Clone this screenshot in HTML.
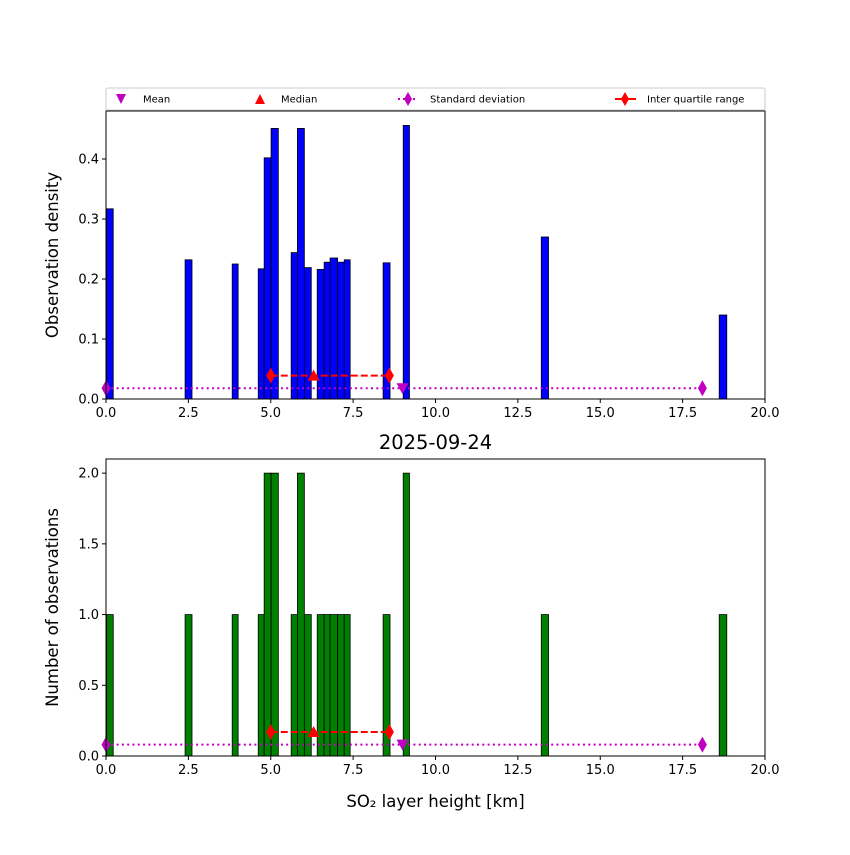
<!DOCTYPE html>
<html><head><meta charset="utf-8"><style>
html,body{margin:0;padding:0;background:#fff;}
svg text{font-family:"DejaVu Sans","Liberation Sans",sans-serif;}
</style></head><body>
<svg id="c" width="850" height="850" xmlns="http://www.w3.org/2000/svg"></svg>
<script>
const binLeft = [0.02,2.40,3.83,4.62,4.80,5.01,5.62,5.81,6.02,6.41,6.62,6.80,7.03,7.23,8.41,9.02,13.21,18.61];
const binRight = [0.22,2.61,4.01,4.80,5.01,5.23,5.81,6.02,6.23,6.62,6.80,7.03,7.23,7.41,8.62,9.21,13.43,18.84];
const density = [0.317,0.232,0.225,0.217,0.402,0.451,0.244,0.451,0.219,0.216,0.228,0.235,0.228,0.232,0.227,0.456,0.270,0.140];
const counts = [1,1,1,1,2,2,1,2,1,1,1,1,1,1,1,2,1,1];
const meanVal = 9.0, medianVal = 6.3, sdLo = 0.0, sdHi = 18.1, iqrLo = 5.0, iqrHi = 8.6;
const xTicks = [0,2.5,5,7.5,10,12.5,15,17.5,20];
const xTickLabels = ["0.0","2.5","5.0","7.5","10.0","12.5","15.0","17.5","20.0"];
const yTicksTop = [0,0.1,0.2,0.3,0.4];
const yTicksTopLabels = ["0.0","0.1","0.2","0.3","0.4"];
const yTicksBot = [0,0.5,1,1.5,2];
const yTicksBotLabels = ["0.0","0.5","1.0","1.5","2.0"];
const statYTop = [0.018,0.039], statYBot = [0.08,0.17];

const svg=document.getElementById('c');
const NS='http://www.w3.org/2000/svg';
function el(t,a,p){const e=document.createElementNS(NS,t);for(const k in a)e.setAttribute(k,a[k]);(p||svg).appendChild(e);return e;}
const X0=106,X1=765;
const sx=v=>X0+(v-0)/(20-0)*(X1-X0);

function panel(name,yTop,yBot,ymax,vals,color,ticks,tickLabels,ylab,statY,ylx){
  const sy=v=>yBot-(v/ymax)*(yBot-yTop);
  const g=el('g',{});
  
  
  for(let i=0;i<vals.length;i++){
    const r=el('rect',{x:sx(binLeft[i]),y:sy(vals[i]),width:sx(binRight[i])-sx(binLeft[i]),height:yBot-sy(vals[i]),fill:color,stroke:'#000','stroke-width':0.8},g);
    
    
  }
  const ys=sy(statY[0]), yi=sy(statY[1]);
  el('line',{x1:sx(sdLo),x2:sx(sdHi),y1:ys,y2:ys,stroke:'#bf00bf','stroke-width':2,'stroke-dasharray':'2,3.3'},g);
  [sdLo,sdHi].forEach(v=>{const d=el('path',{d:`M${sx(v)},${ys-8}L${sx(v)+4.5},${ys}L${sx(v)},${ys+8}L${sx(v)-4.5},${ys}Z`,fill:'#bf00bf'},g);});
  el('line',{x1:sx(iqrLo),x2:sx(iqrHi),y1:yi,y2:yi,stroke:'#f00','stroke-width':2,'stroke-dasharray':'7,3'},g);
  [iqrLo,iqrHi].forEach(v=>{const d=el('path',{d:`M${sx(v)},${yi-8}L${sx(v)+4.5},${yi}L${sx(v)},${yi+8}L${sx(v)-4.5},${yi}Z`,fill:'#f00'},g);});
  const m=el('path',{d:`M${sx(medianVal)-6},${yi+5}L${sx(medianVal)+6},${yi+5}L${sx(medianVal)},${yi-6}Z`,fill:'#f00'},g);
  
  const mn=el('path',{d:`M${sx(meanVal)-6},${ys-5}L${sx(meanVal)+6},${ys-5}L${sx(meanVal)},${ys+6}Z`,fill:'#bf00bf'},g);
  
  const fr=el('rect',{x:X0,y:yTop,width:X1-X0,height:yBot-yTop,fill:'none',stroke:'#000','stroke-width':1},g);
  
  xTicks.forEach((t,i)=>{el('line',{x1:sx(t),x2:sx(t),y1:yBot,y2:yBot+4,stroke:'#000'},g);
    const tx=el('text',{x:sx(t),y:yBot+18,'font-size':13,'text-anchor':'middle'},g);tx.textContent=xTickLabels[i];
    });
  ticks.forEach((t,i)=>{el('line',{x1:X0,x2:X0-4,y1:sy(t),y2:sy(t),stroke:'#000'},g);
    const tx=el('text',{x:X0-7,y:sy(t)+4.5,'font-size':13,'text-anchor':'end'},g);tx.textContent=tickLabels[i];
    });
  const yl=el('text',{x:0,y:0,'font-size':16.5,'text-anchor':'middle',transform:`translate(${ylx},${(yTop+yBot)/2}) rotate(-90)`},g);
  yl.textContent=ylab;
}
panel('density-panel',111,399,0.48,density,'#0000ff',yTicksTop,yTicksTopLabels,'Observation density',statYTop,58);
panel('count-panel',459,756,2.1,counts,'#008000',yTicksBot,yTicksBotLabels,'Number of observations',statYBot,58);

const tt=el('text',{x:435.5,y:449,'font-size':19.5,'text-anchor':'middle'});tt.textContent='2025-09-24';

const xl=el('text',{x:435.5,y:807,'font-size':16.5,'text-anchor':'middle'});xl.textContent='SO₂ layer height [km]';


const lg=el('g',{});

el('rect',{x:106,y:88,width:659,height:22,fill:'#fff',stroke:'#ccc',rx:2},lg);
const ly=99;
el('path',{d:`M116,${ly-5}L126,${ly-5}L121,${ly+5}Z`,fill:'#bf00bf'},lg);
el('path',{d:`M255,${ly+5}L265,${ly+5}L260,${ly-5}Z`,fill:'#f00'},lg);
el('line',{x1:398,x2:418,y1:ly,y2:ly,stroke:'#bf00bf','stroke-width':2,'stroke-dasharray':'2,3'},lg);
el('path',{d:`M408,${ly-7}L412,${ly}L408,${ly+7}L404,${ly}Z`,fill:'#bf00bf'},lg);
el('line',{x1:615,x2:636,y1:ly,y2:ly,stroke:'#f00','stroke-width':2},lg);
el('path',{d:`M625,${ly-7}L629,${ly}L625,${ly+7}L621,${ly}Z`,fill:'#f00'},lg);
[['Mean',143],['Median',281],['Standard deviation',430],['Inter quartile range',647]].forEach(([t,x])=>{
  const e=el('text',{x:x,y:ly+3.5,'font-size':10},lg);e.textContent=t;
  });
</script>
</body></html>
